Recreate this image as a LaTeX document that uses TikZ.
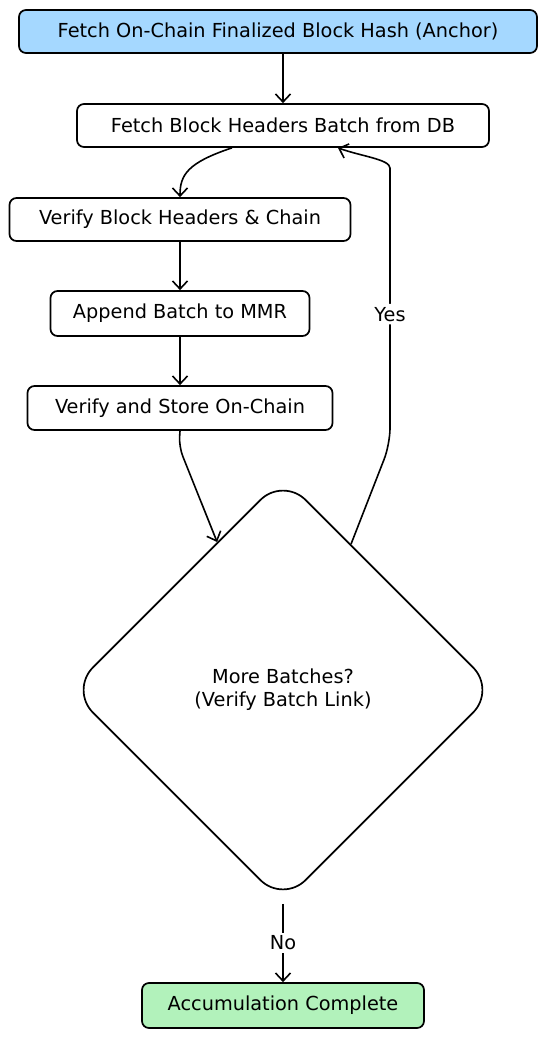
\documentclass[tikz,border=0pt]{standalone}
\usepackage{fontspec}
\setmainfont{DejaVu Sans}
\usepackage{tikz}
\usetikzlibrary{shapes.geometric}
\usetikzlibrary{arrows.meta}

\begin{document}
\begin{tikzpicture}[
        x=1pt, y=1pt,
        line width=1.7pt,
        font=\fontsize{19.3}{23}\selectfont,
        box/.style={draw, rounded corners=7pt, inner sep=0pt, minimum height=43pt},
        decision/.style={draw, diamond, aspect=1, inner sep=0pt, rounded corners=32pt,
            minimum width=426pt, minimum height=426pt, align=center},
        flow/.style={-{Straight Barb[length=8pt,width=15pt]}, line width=1.6pt},
        lbl/.style={fill=white, inner sep=3pt}
    ]
    \useasboundingbox (0,0) rectangle (557,-1038);
    \node[box, fill={rgb,255:red,165;green,216;blue,255}, minimum width=518pt] (anchor) at (278,-31.5)
        {Fetch On-Chain Finalized Block Hash (Anchor)};
    \node[box, minimum width=412pt] (fetch) at (283,-125.5) {Fetch Block Headers Batch from DB};
    \node[box, minimum width=341pt] (verify) at (180,-219.5) {Verify Block Headers \& Chain};
    \node[box, minimum width=259pt, minimum height=45pt] (append) at (180,-313.5) {Append Batch to MMR};
    \node[box, minimum width=305pt, minimum height=44pt] (store) at (180,-408) {Verify and Store On-Chain};
    \node[decision] (more) at (283,-690) {More Batches?\\(Verify Batch Link)};
    \node[box, fill={rgb,255:red,178;green,242;blue,187}, minimum width=282pt, minimum height=45pt] (done)
        at (283,-1005.5) {Accumulation Complete};

    \draw[flow] (anchor.south -| fetch.north) -- (fetch.north);
    \draw[flow] ([xshift=-51pt]fetch.south) .. controls +(-45,-15) and +(0,22) .. (verify.north);
    \draw[flow] (verify.south) -- (append.north);
    \draw[flow] (append.south) -- (store.north);
    \draw[flow, rounded corners=10pt] (store.south) -- ++(-1,-16) -- (more.114);
    \draw[flow, rounded corners=16pt] (more.65) -- ++(39,100)
        -- node[lbl] {Yes} ++(0,260)
        to[out=90, in=-20] ([xshift=55pt]fetch.south);
    \draw[flow] (more.south) -- node[lbl] {No} (done.north);
\end{tikzpicture}
\end{document}
